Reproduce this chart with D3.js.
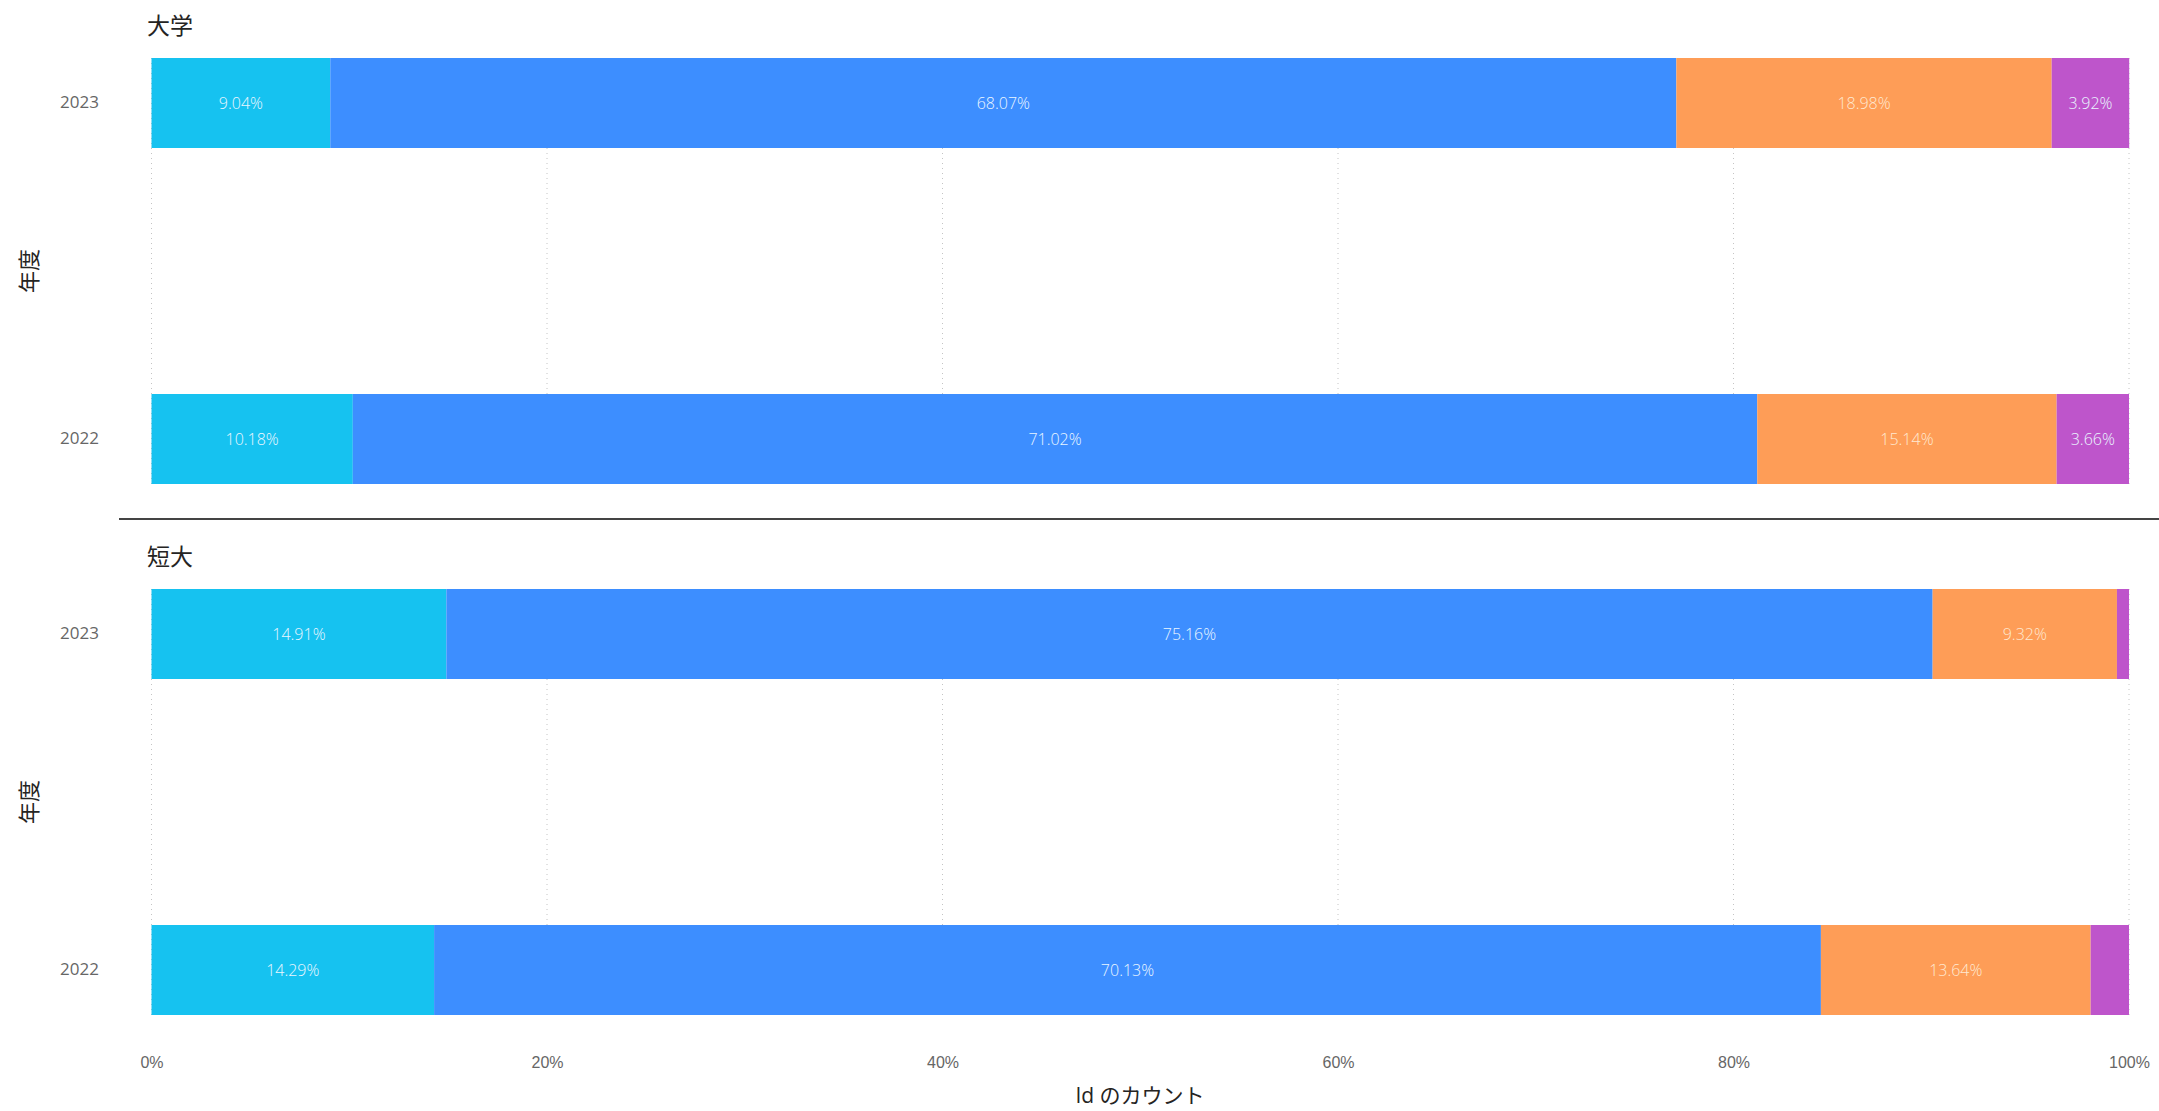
<!DOCTYPE html>
<html><head><meta charset="utf-8">
<script src="https://cdn.jsdelivr.net/npm/d3@7"></script>
<style>
html,body{margin:0;padding:0;background:#fff;}
svg{display:block;font-family:"Open Sans","Noto Sans CJK JP",sans-serif;}
</style></head>
<body>
<svg id="c" width="2159" height="1111"></svg>
<script>
const panels = ["大学", "短大"];
const years = ["2023", "2022"];
const series = ["s1", "s2", "s3", "s4"];
const colors = ["#16C2F0", "#3D8EFF", "#FE9D57", "#BE55CB"];
// values in percent, per panel, per year (order of years array)
const univ2023 = [9.04, 68.07, 18.98, 3.92];
const univ2022 = [10.18, 71.02, 15.14, 3.66];
const junior2023 = [14.91, 75.16, 9.32, 0.61];
const junior2022 = [14.29, 70.13, 13.64, 1.94];
const xTicks = [0, 20, 40, 60, 80, 100];
const yAxisTitle = "年度";
const xAxisTitle = "Id のカウント";

const panelData = [[univ2023, univ2022], [junior2023, junior2022]];
const panelRanges = [[58, 484], [589, 1015]];
const titleY = [34, 565];

const svg = d3.select("#c");
const x = d3.scaleLinear().domain([0, 100]).range([151.5, 2129]);

panels.forEach((p, pi) => {
  const [y0, y1] = panelRanges[pi];
  const y = d3.scaleBand().domain(years).range([y0, y1]).paddingInner(1 - 90 / 336).paddingOuter(0);
  const g = svg.append("g");
  // gridlines
  g.selectAll("line.grid").data(xTicks).join("line")
    .attr("x1", d => x(d)).attr("x2", d => x(d))
    .attr("y1", y0).attr("y2", y1)
    .attr("stroke", "#c4c4c4").attr("stroke-width", 1)
    .attr("stroke-dasharray", "1,4");
  // title
  svg.append("text").attr("x", 147).attr("y", titleY[pi])
    .attr("font-size", 23).attr("fill", "#252423").text(p);
  // y axis title
  svg.append("text")
    .attr("transform", `translate(37,${(y0 + y1) / 2}) rotate(-90)`)
    .attr("text-anchor", "middle").attr("font-size", 22).attr("fill", "#252423")
    .text(yAxisTitle);
  // y axis labels
  const ya = d3.axisLeft(y).tickSize(0).tickPadding(0);
  const yg = svg.append("g").attr("transform", "translate(99,0)").call(ya);
  yg.select(".domain").remove();
  yg.selectAll("text").attr("font-size", 17).attr("fill", "#666666")
    .attr("font-family", "'Open Sans',sans-serif");
  // bars
  years.forEach((yr, yi) => {
    const vals = panelData[pi][yi];
    let cum = 0;
    const segs = vals.map((v, i) => { const s = { start: cum, v, i }; cum += v; return s; });
    const bg = g.append("g");
    bg.selectAll("rect").data(segs).join("rect")
      .attr("x", d => x(d.start)).attr("width", d => x(d.start + d.v) - x(d.start))
      .attr("y", y(yr)).attr("height", y.bandwidth())
      .attr("fill", d => colors[d.i]);
    bg.selectAll("text").data(segs.filter(d => d.v >= 3)).join("text")
      .attr("x", d => x(d.start + d.v / 2)).attr("y", y(yr) + y.bandwidth() / 2)
      .attr("dy", "0.35em").attr("text-anchor", "middle")
      .attr("font-size", 16).attr("font-weight", 300)
      .attr("fill", d => d.i === 2 ? "#FFE9D2" : "#EAF6FF")
      .text(d => d.v.toFixed(2) + "%");
  });
});

// separator
svg.append("line").attr("x1", 119).attr("x2", 2159).attr("y1", 519).attr("y2", 519)
  .attr("stroke", "#444").attr("stroke-width", 2);

// x axis
const xa = d3.axisBottom(x).tickValues(xTicks).tickFormat(d => d + "%").tickSize(0).tickPadding(0);
const xg = svg.append("g").attr("transform", "translate(0,1057)").call(xa);
xg.select(".domain").remove();
xg.selectAll("text").attr("font-size", 16).attr("fill", "#666666");

svg.append("text").attr("x", 1140).attr("y", 1103).attr("text-anchor", "middle")
  .attr("font-size", 21).attr("fill", "#252423").text(xAxisTitle);
</script>
</body></html>
